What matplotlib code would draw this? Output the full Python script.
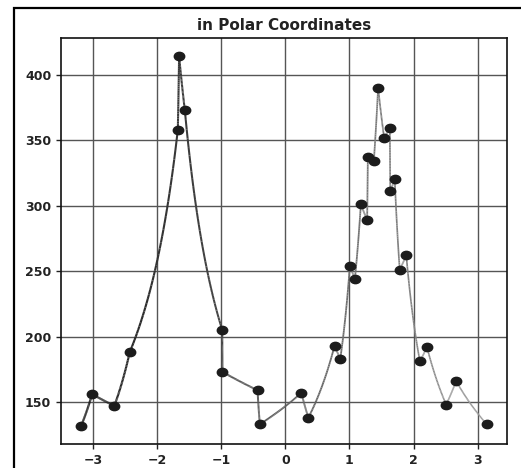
import numpy as np
import matplotlib
matplotlib.use("Agg")
import matplotlib.pyplot as plt
from matplotlib.collections import LineCollection
from matplotlib.patches import Rectangle
from matplotlib.path import Path
from matplotlib.transforms import Affine2D

# Points as (angle, radius)
angle = [-3.18, -3.011, -2.665, -2.425, -1.675, -1.655, -1.566, -0.983, -0.979,
         -0.433, -0.397, 0.251, 0.360, 0.768, 0.857, 1.007, 1.085, 1.178,
         1.276, 1.287, 1.380, 1.447, 1.540, 1.630, 1.636, 1.706, 1.784, 1.886,
         2.099, 2.208, 2.508, 2.663, 3.14]
radius = [132, 156, 147, 188, 358, 414, 373, 205, 173,
          159, 133, 157, 138, 193, 183, 254, 244, 301,
          289, 337, 334, 390, 352, 359, 311, 320, 251, 262,
          181, 192, 148, 166, 133]

x_ticks = [-3, -2, -1, 0, 1, 2, 3]
y_ticks = [150, 200, 250, 300, 350, 400]


def polar_trace(theta, r, n=40):
    """Connect neighbouring points: angle changes linearly and 1/radius
    changes linearly along each piece (close to a straight chord in the
    plane for small angular steps)."""
    theta = np.asarray(theta, float)
    r = np.asarray(r, float)
    s = np.linspace(0, 1, n, endpoint=False)
    th = [theta[i] + s * (theta[i + 1] - theta[i]) for i in range(len(theta) - 1)]
    rr = [1.0 / ((1 - s) / r[i] + s / r[i + 1]) for i in range(len(r) - 1)]
    return np.concatenate(th + [theta[-1:]]), np.concatenate(rr + [r[-1:]])


fig = plt.figure(figsize=(5.21, 4.68), dpi=100)
ax = fig.add_axes([61 / 521, 24 / 468, 446 / 521, 406 / 468])

th, rr = polar_trace(angle, radius)
pts = np.column_stack([th, rr])
segs = np.stack([pts[:-1], pts[1:]], axis=1)
mid = 0.5 * (th[:-1] + th[1:])
shade = np.interp(mid, [-np.pi, np.pi], [0.1, 0.62])
colors = [(s, s, s) for s in shade]
widths = np.interp(mid, [-np.pi, np.pi], [1.6, 1.1])
lc = LineCollection(segs, colors=colors, linewidths=widths, zorder=2)
ax.add_collection(lc)

ellipse = Path.unit_circle().transformed(Affine2D().scale(1.25, 1.0))
ax.plot(angle, radius, linestyle="none", marker=ellipse, markersize=7.5,
        color="#1c1c1c", zorder=3)

ax.margins(0.05)
ax.autoscale_view()
ax.set_xticks(x_ticks)
ax.set_yticks(y_ticks)
ax.grid(True, color="#555555", linewidth=1.0)
ax.set_axisbelow(True)
for s in ax.spines.values():
    s.set_color("#111111")
    s.set_linewidth(1.2)
ax.tick_params(labelsize=9, width=1.0, length=3.5, color="#222222")
for lab in ax.get_xticklabels() + ax.get_yticklabels():
    lab.set_fontweight("bold")
    lab.set_color("#222222")
ax.set_title("in Polar Coordinates", fontsize=11, fontweight="bold", color="#222222")

frame = Rectangle((13.5 / 521, -1.0), 2.0, 1.0 + (1 - 7.5 / 468), transform=fig.transFigure,
                  fill=False, edgecolor="black", linewidth=1.6, clip_on=False)
fig.add_artist(frame)

fig.savefig("out.png", dpi=100)
